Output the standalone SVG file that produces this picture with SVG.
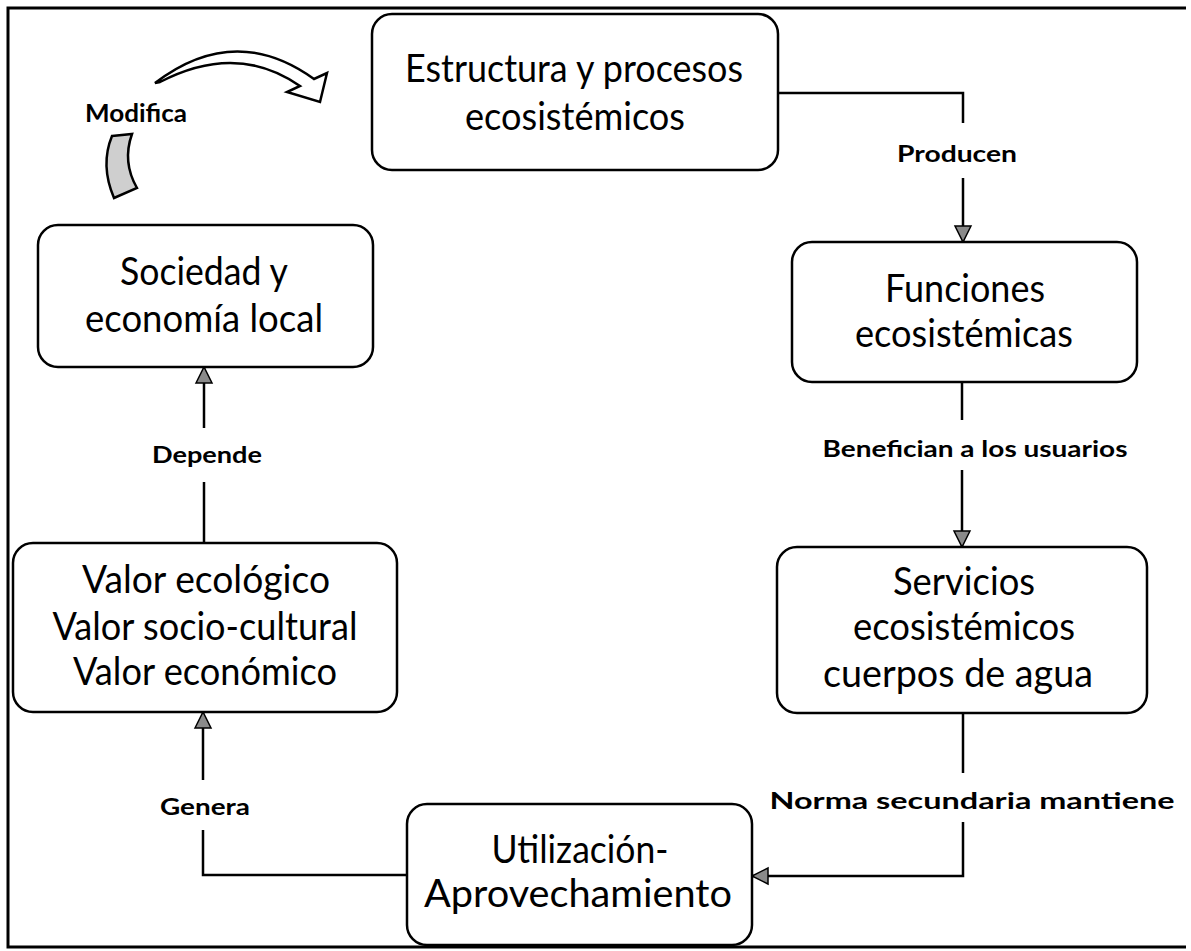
<svg xmlns="http://www.w3.org/2000/svg" width="1191" height="951" viewBox="0 0 1191 951">
  <style>
    .box { fill: #ffffff; stroke: #000000; stroke-width: 2.5; }
    .t { font-family: Lato, "Open Sans", "Liberation Sans", sans-serif; font-size: 38px; fill: #000; text-anchor: middle; }
    .lbl { font-family: Lato, "Open Sans", "Liberation Sans", sans-serif; font-size: 23px; font-weight: bold; fill: #000; text-anchor: middle; }
    .con { fill: none; stroke: #000; stroke-width: 2.5; }
  </style>
  <defs>
    <marker id="arr" markerUnits="userSpaceOnUse" markerWidth="20" markerHeight="20" viewBox="0 0 20 20" refX="18" refY="10" orient="auto">
      <path d="M2,2 L18,10 L2,18 Z" fill="#8a8a8a" stroke="#000" stroke-width="1.5"/>
    </marker>
  </defs>
  <rect width="1191" height="951" fill="#ffffff"/>
  <path d="M1186,8 H8 V947 H1186" fill="none" stroke="#000" stroke-width="3"/>

  <g id="modifica">
    <path d="M155,83 Q235,22 314,79 L327,73 L320,102 L287,92 L300,86 Q237,42 160,82 Z" fill="#ffffff" stroke="#000" stroke-width="2.5" stroke-linejoin="miter"/>
    <path d="M112,136 L132,134 Q122,162 137,188 L114,198 Q100,165 112,136 Z" fill="#cfcfcf" stroke="#000" stroke-width="2.5"/>
    <text class="lbl" x="136" y="122" textLength="102" lengthAdjust="spacingAndGlyphs" style="font-size:25px">Modifica</text>
  </g>

  <g id="connectors">
    <path class="con" d="M778,93 H963 V123"/>
    <path class="con" d="M963,178 V242" marker-end="url(#arr)"/>
    <path class="con" d="M962,382 V420"/>
    <path class="con" d="M962,470 V547" marker-end="url(#arr)"/>
    <path class="con" d="M963,713 V773"/>
    <path class="con" d="M963,822 V876 H752" marker-end="url(#arr)"/>
    <path class="con" d="M407,875 H203 V830"/>
    <path class="con" d="M203,780 V712" marker-end="url(#arr)"/>
    <path class="con" d="M204,543 V482"/>
    <path class="con" d="M204,428 V367" marker-end="url(#arr)"/>
  </g>

  <g id="labels">
    <text class="lbl" x="957" y="162" textLength="120" lengthAdjust="spacingAndGlyphs">Producen</text>
    <text class="lbl" x="975" y="457" textLength="305" lengthAdjust="spacingAndGlyphs">Benefician a los usuarios</text>
    <text class="lbl" x="972" y="809" textLength="405" lengthAdjust="spacingAndGlyphs">Norma secundaria mantiene</text>
    <text class="lbl" x="205" y="815" textLength="90" lengthAdjust="spacingAndGlyphs">Genera</text>
    <text class="lbl" x="207" y="463" textLength="110" lengthAdjust="spacingAndGlyphs">Depende</text>
  </g>

  <g id="estructura">
    <rect class="box" x="372" y="14" width="406" height="156" rx="20"/>
    <text class="t" x="574" y="82" textLength="338" lengthAdjust="spacingAndGlyphs">Estructura y procesos</text>
    <text class="t" x="575" y="130" textLength="220" lengthAdjust="spacingAndGlyphs">ecosistémicos</text>
  </g>

  <g id="funciones">
    <rect class="box" x="792" y="242" width="345" height="140" rx="20"/>
    <text class="t" x="965" y="302" textLength="160" lengthAdjust="spacingAndGlyphs">Funciones</text>
    <text class="t" x="964" y="347" textLength="218" lengthAdjust="spacingAndGlyphs">ecosistémicas</text>
  </g>

  <g id="servicios">
    <rect class="box" x="777" y="547" width="370" height="166" rx="20"/>
    <text class="t" x="964" y="595" textLength="142" lengthAdjust="spacingAndGlyphs">Servicios</text>
    <text class="t" x="964" y="640" textLength="222" lengthAdjust="spacingAndGlyphs">ecosistémicos</text>
    <text class="t" x="958" y="687" textLength="270" lengthAdjust="spacingAndGlyphs">cuerpos de agua</text>
  </g>

  <g id="utilizacion">
    <rect class="box" x="407" y="804" width="345" height="141" rx="20"/>
    <text class="t" x="580" y="863" textLength="177" lengthAdjust="spacingAndGlyphs">Utilización-</text>
    <text class="t" x="578" y="907" textLength="308" lengthAdjust="spacingAndGlyphs">Aprovechamiento</text>
  </g>

  <g id="valor">
    <rect class="box" x="13" y="543" width="384" height="169" rx="20"/>
    <text class="t" x="206" y="593" textLength="248" lengthAdjust="spacingAndGlyphs">Valor  ecológico</text>
    <text class="t" x="205" y="640" textLength="305" lengthAdjust="spacingAndGlyphs">Valor socio-cultural</text>
    <text class="t" x="205" y="685" textLength="264" lengthAdjust="spacingAndGlyphs">Valor económico</text>
  </g>

  <g id="sociedad">
    <rect class="box" x="38" y="225" width="335" height="142" rx="20"/>
    <text class="t" x="204" y="285" textLength="168" lengthAdjust="spacingAndGlyphs">Sociedad y</text>
    <text class="t" x="204" y="332" textLength="238" lengthAdjust="spacingAndGlyphs">economía local</text>
  </g>
</svg>
